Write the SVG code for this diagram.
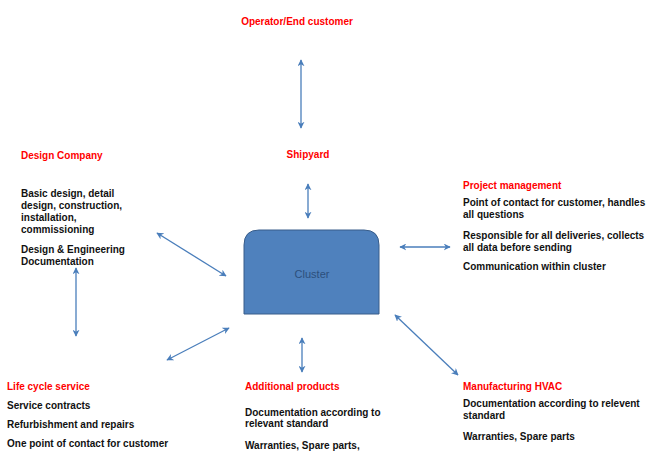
<svg xmlns="http://www.w3.org/2000/svg" width="651" height="466" viewBox="0 0 651 466">
<defs>
<marker id="ah" viewBox="0 0 10 10" refX="9" refY="5" markerWidth="7" markerHeight="7" orient="auto-start-reverse" markerUnits="userSpaceOnUse">
<path d="M0,0 L10,5 L0,10 L3,5 Z" fill="#4a7ebb"/>
</marker>
<style>
.h{font-family:"Liberation Sans",Arial,sans-serif;font-size:10px;font-weight:bold;fill:#ff0000}
.t{font-family:"Liberation Sans",Arial,sans-serif;font-size:10px;font-weight:bold;fill:#111}
.c{stroke:#4a7ebb;stroke-width:1.3;fill:none;marker-start:url(#ah);marker-end:url(#ah)}
</style>
</defs>
<rect width="651" height="466" fill="#fff"/>
<g id="connectors">
<line class="c" x1="301" y1="60" x2="301" y2="128"/>
<line class="c" x1="308" y1="184" x2="308" y2="218"/>
<line class="c" x1="157" y1="233" x2="226" y2="276"/>
<line class="c" x1="76" y1="268" x2="76" y2="336"/>
<line class="c" x1="167" y1="360" x2="229" y2="328"/>
<line class="c" x1="302" y1="338" x2="302" y2="372"/>
<line class="c" x1="400" y1="247" x2="450" y2="247"/>
<line class="c" x1="395" y1="315" x2="458" y2="375"/>
</g>
<g id="cluster">
<path d="M244,314 V245 Q244,230 259,230 H364 Q379,230 379,245 V314 Z" fill="#4f81bd" stroke="#385d8a" stroke-width="1"/>
<text x="312" y="278" text-anchor="middle" font-family="'Liberation Sans',Arial,sans-serif" font-size="11" fill="#2c4f7c">Cluster</text>
</g>
<g id="operator">
<text class="h" x="297" y="25" text-anchor="middle">Operator/End customer</text>
</g>
<g id="shipyard">
<text class="h" x="308" y="158" text-anchor="middle">Shipyard</text>
</g>
<g id="design-company">
<text class="h" x="21" y="159">Design Company</text>
<text class="t" x="21" y="197">Basic design, detail</text>
<text class="t" x="21" y="209">design, construction,</text>
<text class="t" x="21" y="221">installation,</text>
<text class="t" x="21" y="233">commissioning</text>
<text class="t" x="21" y="253">Design &amp; Engineering</text>
<text class="t" x="21" y="265">Documentation</text>
</g>
<g id="project-management">
<text class="h" x="463" y="189">Project management</text>
<text class="t" x="463" y="206">Point of contact for customer, handles</text>
<text class="t" x="463" y="218">all questions</text>
<text class="t" x="463" y="239">Responsible  for all  deliveries, collects</text>
<text class="t" x="463" y="251">all data before sending</text>
<text class="t" x="463" y="270">Communication within cluster</text>
</g>
<g id="life-cycle">
<text class="h" x="7" y="390">Life cycle service</text>
<text class="t" x="7" y="409">Service contracts</text>
<text class="t" x="7" y="428">Refurbishment and repairs</text>
<text class="t" x="7" y="447">One point of contact for customer</text>
</g>
<g id="additional-products">
<text class="h" x="245" y="390">Additional  products</text>
<text class="t" x="245" y="416">Documentation according to</text>
<text class="t" x="245" y="427">relevant standard</text>
<text class="t" x="245" y="449">Warranties, Spare parts,</text>
</g>
<g id="manufacturing">
<text class="h" x="463" y="390">Manufacturing  HVAC</text>
<text class="t" x="463" y="407">Documentation according  to relevent</text>
<text class="t" x="463" y="419">standard</text>
<text class="t" x="463" y="440">Warranties, Spare parts</text>
</g>
</svg>
